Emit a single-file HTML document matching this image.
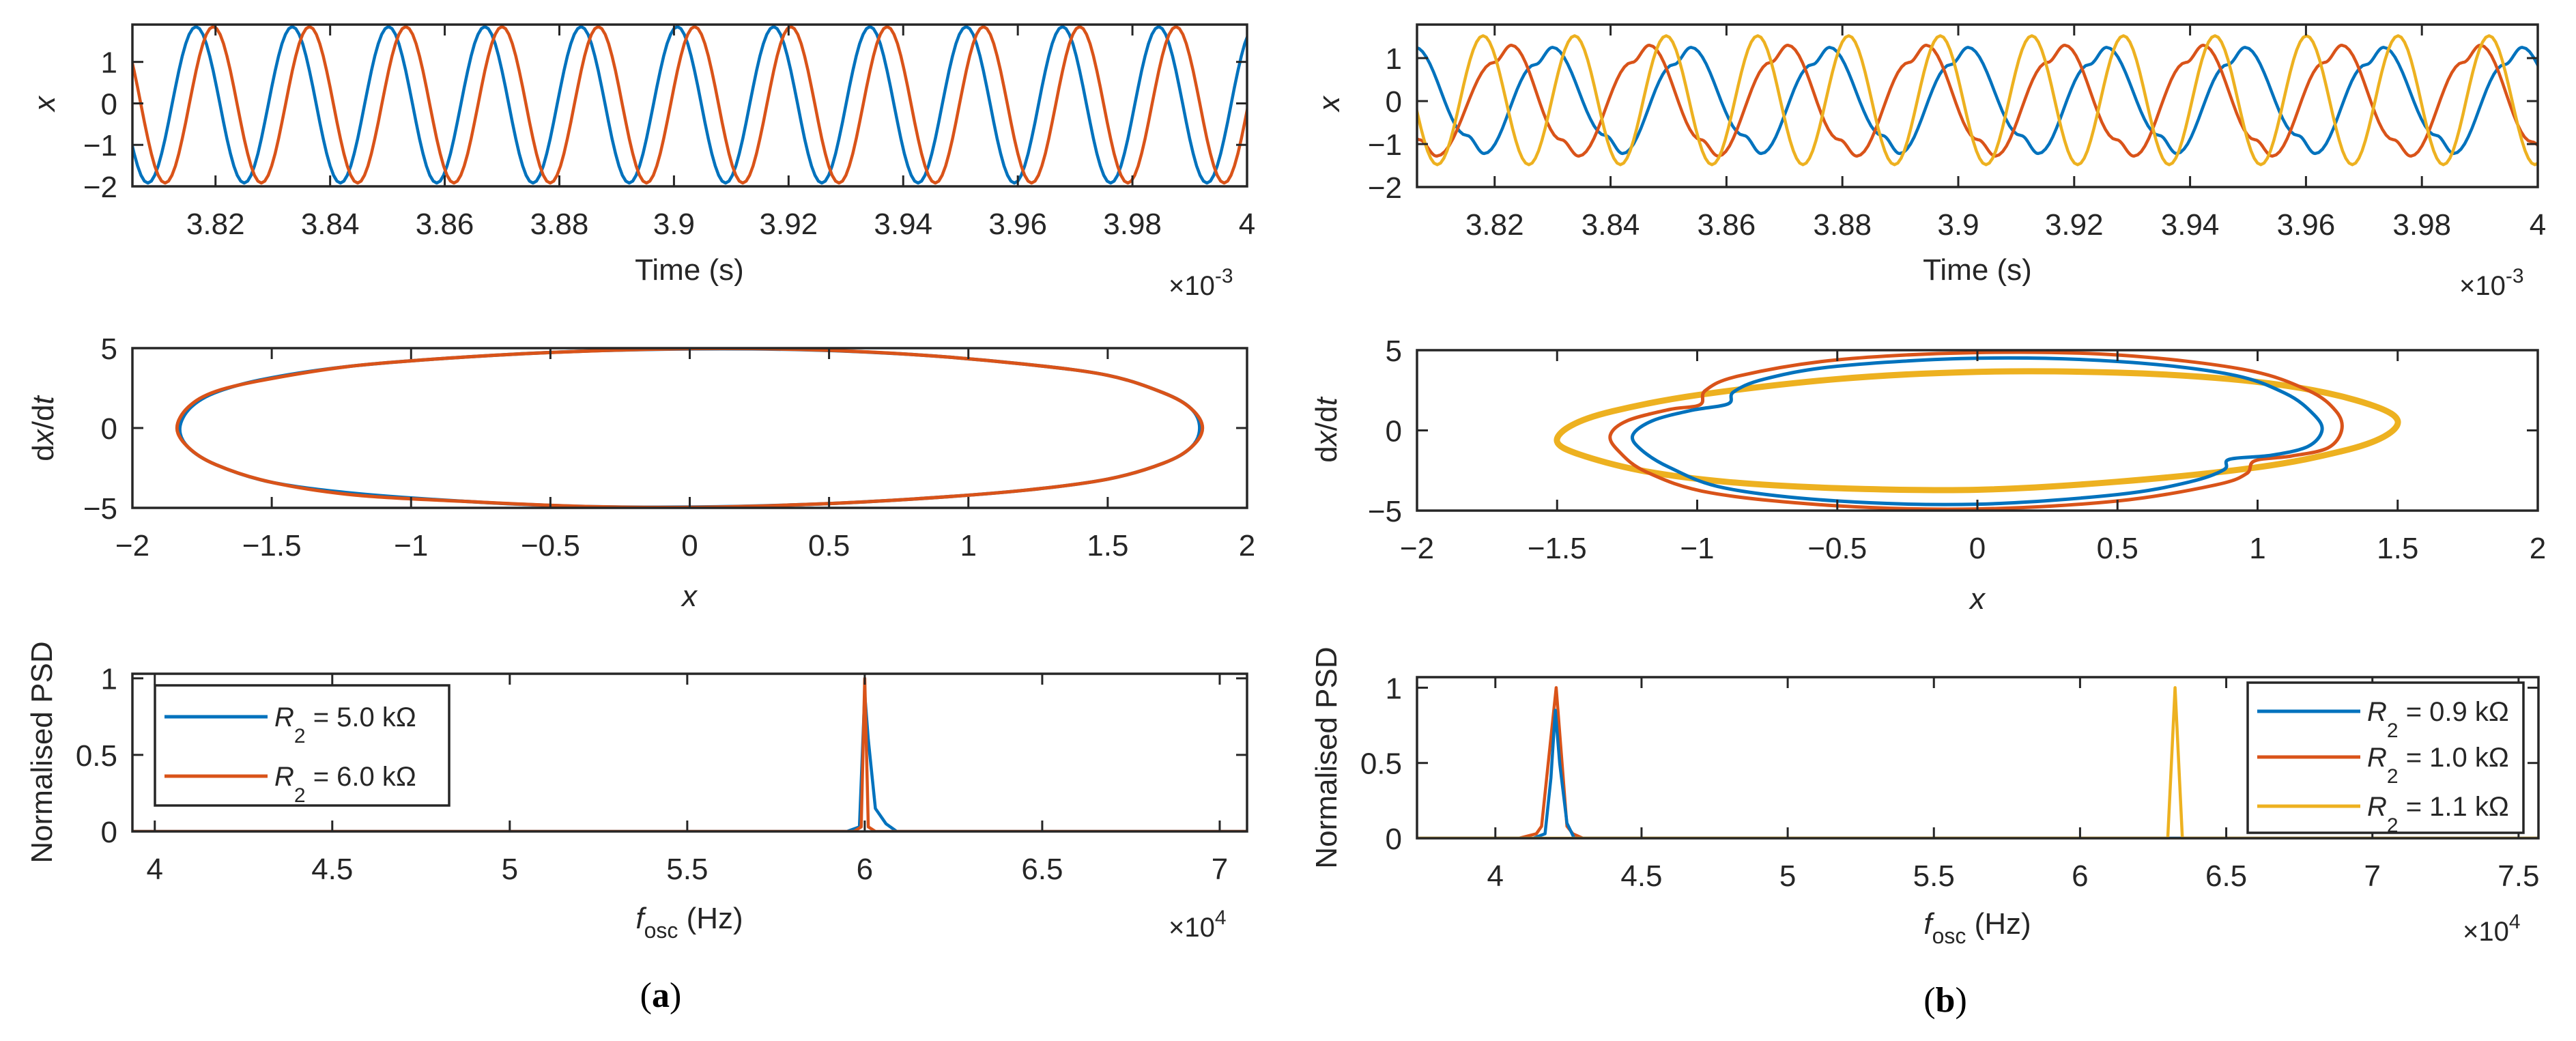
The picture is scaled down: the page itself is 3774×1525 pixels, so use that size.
<!DOCTYPE html>
<html><head><meta charset="utf-8"><style>
html,body{margin:0;padding:0;background:#fff;}
svg{display:block;}
text{font-family:"Liberation Sans",Arial,sans-serif;fill:#262626;}
</style></head>
<body>
<svg id="fig" width="3774" height="1525" viewBox="0 0 3774 1525" xmlns="http://www.w3.org/2000/svg"></svg>
<script>
// ===== DATA =====
// Panel (a) time series: extrema (time in ms*1e3 units, value)
const aBlueT=[3.7998,3.8082,3.8166,3.8250,3.8334,3.8418,3.8502,3.8586,3.8670,3.8754,3.8838,3.8922,3.9006,3.9090,3.9174,3.9258,3.9342,3.9426,3.9510,3.9594,3.9678,3.9762,3.9846,3.9930,4.0014];
const aBlueV=[1.85,-1.92,1.85,-1.92,1.85,-1.92,1.85,-1.92,1.85,-1.92,1.85,-1.92,1.85,-1.92,1.85,-1.92,1.85,-1.92,1.85,-1.92,1.85,-1.92,1.85,-1.92,1.85];
const aOrangeT=[3.8028,3.8112,3.8196,3.8280,3.8364,3.8448,3.8532,3.8616,3.8700,3.8784,3.8868,3.8952,3.9036,3.9120,3.9204,3.9288,3.9372,3.9456,3.9540,3.9624,3.9708,3.9792,3.9876,3.9960,4.0044];
const aOrangeV=[1.85,-1.92,1.85,-1.92,1.85,-1.92,1.85,-1.92,1.85,-1.92,1.85,-1.92,1.85,-1.92,1.85,-1.92,1.85,-1.92,1.85,-1.92,1.85,-1.92,1.85,-1.92,1.85];
// Panel (b) time series (trough, shoulder, peak, shoulder ...)
const bBlueT=[3.8063,3.8152,3.8182,3.8270,3.8300,3.8391,3.8421,3.8509,3.8539,3.8630,3.8660,3.8748,3.8778,3.8869,3.8899,3.8987,3.9017,3.9108,3.9138,3.9226,3.9256,3.9347,3.9377,3.9465,3.9495,3.9586,3.9616,3.9704,3.9734,3.9825,3.9855,3.9943,3.9973,4.0064,4.0094];
const bBlueV=[1.25,-0.8,-1.22,0.85,1.25,-0.8,-1.22,0.85,1.25,-0.8,-1.22,0.85,1.25,-0.8,-1.22,0.85,1.25,-0.8,-1.22,0.85,1.25,-0.8,-1.22,0.85,1.25,-0.8,-1.22,0.85,1.25,-0.8,-1.22,0.85,1.25,-0.8,-1.22];
const bRedT=[3.7990,3.8070,3.8100,3.8199,3.8229,3.8315,3.8345,3.8437,3.8467,3.8556,3.8586,3.8676,3.8706,3.8795,3.8825,3.8915,3.8945,3.9034,3.9064,3.9154,3.9184,3.9273,3.9303,3.9393,3.9423,3.9512,3.9542,3.9632,3.9662,3.9751,3.9781,3.9871,3.9901,3.9990,4.0020];
const bRedV=[1.3,-0.9,-1.28,0.9,1.3,-0.9,-1.28,0.9,1.3,-0.9,-1.28,0.9,1.3,-0.9,-1.28,0.9,1.3,-0.9,-1.28,0.9,1.3,-0.9,-1.28,0.9,1.3,-0.9,-1.28,0.9,1.3,-0.9,-1.28,0.9,1.3,-0.95,-1.28];
const bYellowT=[3.8022,3.8101,3.8180,3.8259,3.8338,3.8417,3.8496,3.8575,3.8654,3.8732,3.8811,3.8890,3.8969,3.9048,3.9127,3.9206,3.9285,3.9364,3.9443,3.9522,3.9601,3.9680,3.9759,3.9837,3.9916,3.9995,4.0074];
const bYellowV=[1.52,-1.48,1.52,-1.48,1.52,-1.48,1.52,-1.48,1.52,-1.48,1.52,-1.48,1.52,-1.48,1.52,-1.48,1.52,-1.48,1.52,-1.48,1.52,-1.48,1.52,-1.48,1.52,-1.48,1.52];
// Phase portraits (closed loops): x and dx/dt
const aPhBlueX=[-1.83,-1.79,-1.69,-1.5,-1.2,-0.8,-0.4,0,0.4,0.8,1.2,1.5,1.7,1.8,1.83,1.8,1.7,1.5,1.2,0.8,0.4,0,-0.4,-0.8,-1.2,-1.5,-1.7,-1.8];
const aPhBlueY=[0,1.3,2.3,3.15,3.9,4.45,4.8,4.95,4.9,4.6,4.0,3.3,2.2,1.2,0,-1.2,-2.2,-3.2,-3.9,-4.45,-4.8,-4.95,-4.9,-4.6,-4.1,-3.4,-2.3,-1.2];
const aPhOrangeX=[-1.84,-1.8,-1.7,-1.5,-1.2,-0.8,-0.4,0,0.4,0.8,1.2,1.5,1.7,1.8,1.84,1.8,1.7,1.5,1.2,0.8,0.4,0,-0.4,-0.8,-1.2,-1.5,-1.7,-1.8];
const aPhOrangeY=[0,1.3,2.3,3.1,3.9,4.45,4.8,4.97,4.92,4.6,4.0,3.3,2.2,1.2,0,-1.2,-2.2,-3.2,-3.9,-4.45,-4.8,-4.97,-4.9,-4.6,-4.2,-3.4,-2.3,-1.2];
const bPhBlueX=[-1.23,-1.16,-1.02,-0.89,-0.87,-0.76,-0.5,0,0.5,0.9,1.1,1.2,1.23,1.18,1.05,0.9,0.88,0.76,0.5,0,-0.5,-0.9,-1.1,-1.2];
const bPhBlueY=[-0.3,0.6,1.25,1.65,2.4,3.2,4.0,4.5,4.3,3.5,2.3,1.0,0,-1.0,-1.55,-1.8,-2.45,-3.2,-4.0,-4.6,-4.4,-3.6,-2.3,-1.2];
const bPhRedX=[-1.31,-1.25,-1.1,-0.99,-0.97,-0.85,-0.5,0,0.5,0.95,1.18,1.28,1.3,1.25,1.12,0.99,0.96,0.85,0.5,0,-0.5,-0.95,-1.18,-1.28];
const bPhRedY=[-0.3,0.6,1.3,1.6,2.5,3.4,4.4,4.85,4.7,3.8,2.5,1.2,0,-1.1,-1.6,-1.9,-2.7,-3.4,-4.4,-4.9,-4.7,-3.9,-2.6,-1.3];
const bPhYellowX=[-1.5,-1.45,-1.3,-1.0,-0.5,0,0.5,0.9,1.2,1.42,1.5,1.45,1.3,1.0,0.5,0,-0.5,-0.9,-1.2,-1.42];
const bPhYellowY=[-0.7,0.3,1.2,2.2,3.2,3.65,3.6,3.2,2.5,1.5,0.6,-0.4,-1.3,-2.3,-3.2,-3.7,-3.6,-3.2,-2.5,-1.5];
// PSD spectra (frequency x1e4, normalised PSD)
const aPsdBlueF=[3.937,5.95,5.985,6.0,6.01,6.03,6.06,6.09,7.077];
const aPsdBlueV=[0,0,0.03,0.9,0.6,0.15,0.05,0,0];
const aPsdOrangeF=[3.937,5.97,5.99,6.0,6.01,6.03,7.077];
const aPsdOrangeV=[0,0,0.03,1.0,0.03,0,0];
const bPsdBlueF=[3.732,4.13,4.17,4.19,4.205,4.22,4.245,4.27,7.568];
const bPsdBlueV=[0,0,0.03,0.4,0.85,0.5,0.1,0,0];
const bPsdRedF=[3.732,4.08,4.14,4.158,4.208,4.245,4.265,4.30,7.568];
const bPsdRedV=[0,0,0.03,0.08,1.0,0.08,0.03,0,0];
const bPsdYellowF=[3.732,6.30,6.325,6.35,7.568];
const bPsdYellowV=[0,0,1.0,0,0];
// Tick labels
const timeTicks=[3.82,3.84,3.86,3.88,3.9,3.92,3.94,3.96,3.98,4];
const xTicksTop=[-2,-1,0,1];
const phaseXTicks=[-2,-1.5,-1,-0.5,0,0.5,1,1.5,2];
const phaseYTicks=[-5,0,5];
const psdYTicks=[0,0.5,1];
const aPsdXTicks=[4,4.5,5,5.5,6,6.5,7];
const bPsdXTicks=[4,4.5,5,5.5,6,6.5,7,7.5];
const legendA=["5.0","6.0"];
const legendB=["0.9","1.0","1.1"];

// ===== RENDER =====
const NS="http://www.w3.org/2000/svg";
const svg=document.getElementById('fig');
const C={blue:"#0072BD",orange:"#D95319",yellow:"#EDB120",ax:"#262626"};
function el(tag,attrs,parent){const e=document.createElementNS(NS,tag);for(const k in attrs)e.setAttribute(k,attrs[k]);(parent||svg).appendChild(e);return e;}
function fmt(v){let s=String(v);return s.replace('-','\u2212');}
let clipId=0;
function makeAxes(name,x0,x1,y0,y1,xmin,xmax,ymin,ymax){
  const g=el('g',{});
  
  
  const sx=v=>x0+(v-xmin)/(xmax-xmin)*(x1-x0);
  const sy=v=>y1-(v-ymin)/(ymax-ymin)*(y1-y0);
  const id='clip'+(clipId++);
  const cp=el('clipPath',{id:id},g);el('rect',{x:x0,y:y0,width:x1-x0,height:y1-y0},cp);
  const plot=el('g',{'clip-path':'url(#'+id+')'},g);
  return {g,plot,sx,sy,x0,x1,y0,y1};
}
function frame(A,xt,yt,xfmt){
  const g=A.g;
  for(const v of xt){const x=A.sx(v);
    const t=el('line',{x1:x,x2:x,y1:A.y1,y2:A.y1-16,stroke:C.ax,'stroke-width':3},g);
    
    
    el('line',{x1:x,x2:x,y1:A.y0,y2:A.y0+16,stroke:C.ax,'stroke-width':3},g);
    const tx=el('text',{x:x,y:A.y1+70,'font-size':44,'text-anchor':'middle'},g);tx.textContent=xfmt?xfmt(v):fmt(v);
    
    
  }
  for(const v of yt){const y=A.sy(v);
    el('line',{x1:A.x0,x2:A.x0+16,y1:y,y2:y,stroke:C.ax,'stroke-width':3},g);
    el('line',{x1:A.x1,x2:A.x1-16,y1:y,y2:y,stroke:C.ax,'stroke-width':3},g);
    const tx=el('text',{x:A.x0-22,y:y+16,'font-size':44,'text-anchor':'end'},g);tx.textContent=fmt(v);
    
    
  }
  const r=el('rect',{x:A.x0,y:A.y0,width:A.x1-A.x0,height:A.y1-A.y0,fill:'none',stroke:C.ax,'stroke-width':3.5},g);
  
  
}
function cosLine(A,T,V,color,w,name){
  let d='';
  for(let i=0;i<T.length-1;i++){
    for(let k=0;k<=14;k++){const s=k/14;if(i>0&&k==0)continue;
      const t=T[i]+(T[i+1]-T[i])*s;const v=V[i]+(V[i+1]-V[i])*(1-Math.cos(Math.PI*s))/2;
      d+=(d?'L':'M')+A.sx(t).toFixed(1)+','+A.sy(v).toFixed(1);}
  }
  const p=el('path',{d:d,fill:'none',stroke:color,'stroke-width':w,'stroke-linejoin':'round'},A.plot);
  
  
}
function loop(A,X,Y,color,w,name){
  const n=X.length;const P=X.map((x,i)=>[A.sx(x),A.sy(Y[i])]);
  let d='M'+P[0][0]+','+P[0][1];
  for(let i=0;i<n;i++){const p0=P[(i-1+n)%n],p1=P[i],p2=P[(i+1)%n],p3=P[(i+2)%n];
    const c1=[p1[0]+(p2[0]-p0[0])/6,p1[1]+(p2[1]-p0[1])/6],c2=[p2[0]-(p3[0]-p1[0])/6,p2[1]-(p3[1]-p1[1])/6];
    d+='C'+c1[0].toFixed(1)+','+c1[1].toFixed(1)+' '+c2[0].toFixed(1)+','+c2[1].toFixed(1)+' '+p2[0].toFixed(1)+','+p2[1].toFixed(1);}
  const p=el('path',{d:d+'Z',fill:'none',stroke:color,'stroke-width':w,'stroke-linejoin':'round'},A.plot);
  
  
}
function poly(A,F,V,color,w,name){
  const pts=F.map((f,i)=>A.sx(f).toFixed(1)+','+A.sy(V[i]).toFixed(1)).join(' ');
  const p=el('polyline',{points:pts,fill:'none',stroke:color,'stroke-width':w,'stroke-linejoin':'round'},A.plot);
  
  
}
function label(x,y,html,size,rot,name,anchor){
  const t=el('text',{x:x,y:y,'font-size':size,'text-anchor':anchor||'middle'});
  if(rot)t.setAttribute('transform','rotate(-90 '+x+' '+y+')');
  t.innerHTML=html;
  
  
  return t;
}
function legend(x0,y0,x1,y1,cols,vals,ys,name){
  const g=el('g',{});
  
  
  el('rect',{x:x0,y:y0,width:x1-x0,height:y1-y0,fill:'#fff',stroke:C.ax,'stroke-width':3.5},g);
  vals.forEach((v,i)=>{
    const e=el('g',{},g);
    
    
    el('line',{x1:x0+14,x2:x0+165,y1:ys[i],y2:ys[i],stroke:cols[i],'stroke-width':5},e);
    const t=el('text',{x:x0+175,y:ys[i]+14,'font-size':40},e);
    t.innerHTML='<tspan font-style="italic">R</tspan><tspan dy="24" font-size="30">2</tspan><tspan dy="-24"> = '+v+' k\u03A9</tspan>';
  });
}
function timeFmt(v){return fmt(v);}

// ---- Panel (a) ----
const aT=makeAxes('time-series-a',194,1827,36,273,3.8055,4.0,-2,1.9);
cosLine(aT,aBlueT,aBlueV,C.blue,4.5,'series-r2-5k');
cosLine(aT,aOrangeT,aOrangeV,C.orange,4.5,'series-r2-6k');
frame(aT,timeTicks,xTicksTop);
label(80,152,'<tspan font-style="italic">x</tspan>',44,true,'y-axis-title-x');
label(1010,410,'Time (s)',44,false,'x-axis-title-time');
label(1712,432,'\u00D710<tspan dy="-18" font-size="30">-3</tspan>',40,false,'x-axis-multiplier','start');

const aP=makeAxes('phase-portrait-a',194,1827,510,744,-2,2,-5,5);
loop(aP,aPhBlueX,aPhBlueY,C.blue,5,'phase-r2-5k');
loop(aP,aPhOrangeX,aPhOrangeY,C.orange,5,'phase-r2-6k');
frame(aP,phaseXTicks,phaseYTicks);
label(78,628,'d<tspan font-style="italic">x</tspan>/d<tspan font-style="italic">t</tspan>',44,true,'y-axis-title-dxdt');
label(1010,888,'<tspan font-style="italic">x</tspan>',44,false,'x-axis-title-x');

const aS=makeAxes('psd-a',194,1827,987,1218,3.937,7.077,0,1.03);
poly(aS,aPsdBlueF,aPsdBlueV,C.blue,4.5,'psd-r2-5k');
poly(aS,aPsdOrangeF,aPsdOrangeV,C.orange,4.5,'psd-r2-6k');
frame(aS,aPsdXTicks,psdYTicks);
legend(227,1004,658,1180,[C.blue,C.orange],legendA,[1050,1137],'legend-a');
label(76,1102,'Normalised PSD',44,true,'y-axis-title-psd');
label(1010,1360,'<tspan font-style="italic">f</tspan><tspan dy="14" font-size="32">osc</tspan><tspan dy="-14"> (Hz)</tspan>',44,false,'x-axis-title-fosc');
label(1712,1372,'\u00D710<tspan dy="-18" font-size="30">4</tspan>',40,false,'x-axis-multiplier','start');
const la=label(968,1475,'(<tspan font-weight="bold">a</tspan>)',52,false,'panel-label-a');la.setAttribute('style','font-family:"Liberation Serif",serif;fill:#000');

// ---- Panel (b) ----
const bT=makeAxes('time-series-b',2076,3718,36,274,3.8066,4.0,-2,1.78);
cosLine(bT,bBlueT,bBlueV,C.blue,4.5,'series-r2-0.9k');
cosLine(bT,bRedT,bRedV,C.orange,4.5,'series-r2-1.0k');
cosLine(bT,bYellowT,bYellowV,C.yellow,4.5,'series-r2-1.1k');
frame(bT,timeTicks,xTicksTop);
label(1962,152,'<tspan font-style="italic">x</tspan>',44,true,'y-axis-title-x');
label(2897,410,'Time (s)',44,false,'x-axis-title-time');
label(3603,432,'\u00D710<tspan dy="-18" font-size="30">-3</tspan>',40,false,'x-axis-multiplier','start');

const bP=makeAxes('phase-portrait-b',2076,3718,513,748,-2,2,-5,5);
loop(bP,bPhYellowX,bPhYellowY,C.yellow,9,'phase-r2-1.1k');
loop(bP,bPhRedX,bPhRedY,C.orange,5,'phase-r2-1.0k');
loop(bP,bPhBlueX,bPhBlueY,C.blue,5,'phase-r2-0.9k');
frame(bP,phaseXTicks,phaseYTicks);
label(1958,630,'d<tspan font-style="italic">x</tspan>/d<tspan font-style="italic">t</tspan>',44,true,'y-axis-title-dxdt');
label(2897,892,'<tspan font-style="italic">x</tspan>',44,false,'x-axis-title-x');

const bS=makeAxes('psd-b',2076,3719,992,1228,3.732,7.568,0,1.07);
poly(bS,bPsdRedF,bPsdRedV,C.orange,4.5,'psd-r2-1.0k');
poly(bS,bPsdBlueF,bPsdBlueV,C.blue,4.5,'psd-r2-0.9k');
poly(bS,bPsdYellowF,bPsdYellowV,C.yellow,4.5,'psd-r2-1.1k');
frame(bS,bPsdXTicks,psdYTicks);
legend(3293,1000,3697,1220,[C.blue,C.orange,C.yellow],legendB,[1042,1109,1181],'legend-b');
label(1958,1110,'Normalised PSD',44,true,'y-axis-title-psd');
label(2897,1368,'<tspan font-style="italic">f</tspan><tspan dy="14" font-size="32">osc</tspan><tspan dy="-14"> (Hz)</tspan>',44,false,'x-axis-title-fosc');
label(3608,1378,'\u00D710<tspan dy="-18" font-size="30">4</tspan>',40,false,'x-axis-multiplier','start');
const lb=label(2850,1482,'(<tspan font-weight="bold">b</tspan>)',52,false,'panel-label-b');lb.setAttribute('style','font-family:"Liberation Serif",serif;fill:#000');
</script>
</body></html>
